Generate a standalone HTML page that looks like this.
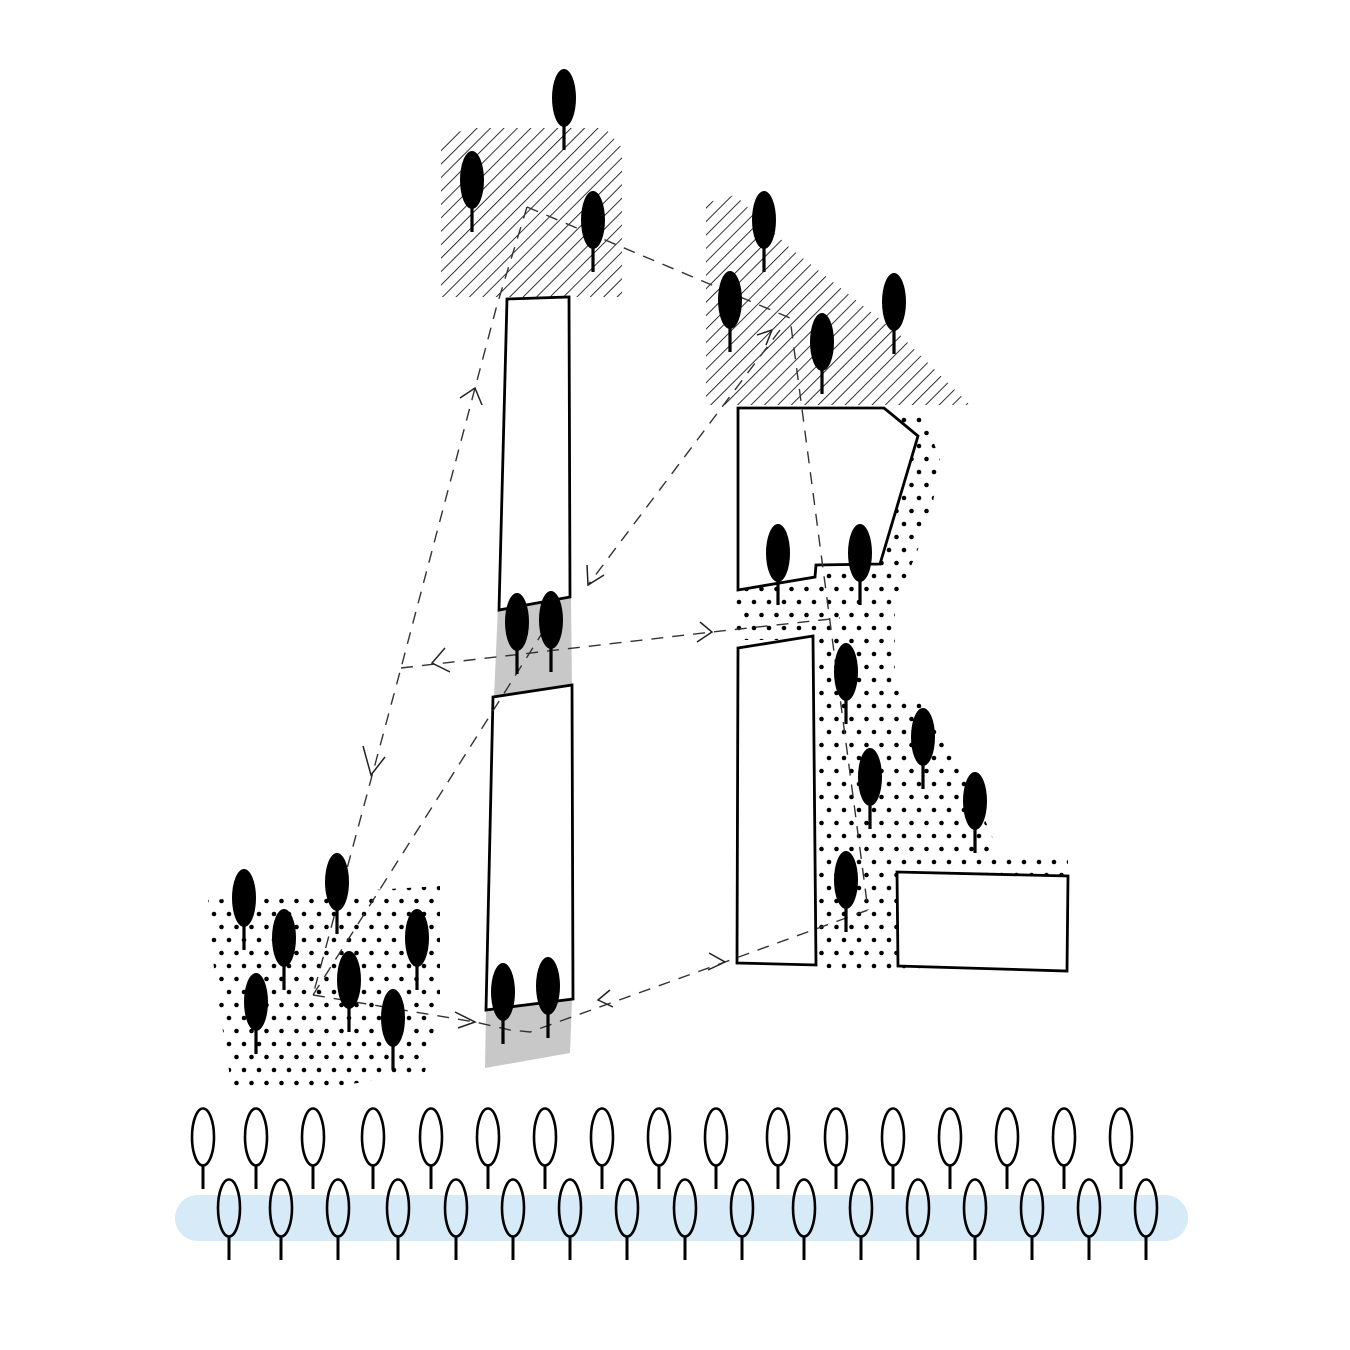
<!DOCTYPE html>
<html><head><meta charset="utf-8"><style>html,body{margin:0;padding:0;background:#fff}svg{display:block}</style></head>
<body>
<svg width="1350" height="1350" viewBox="0 0 1350 1350" xmlns="http://www.w3.org/2000/svg">
<defs>
<pattern id="hatch" width="9.5" height="9.5" patternUnits="userSpaceOnUse" patternTransform="rotate(45)">
<line x1="0" y1="0" x2="0" y2="9.5" stroke="#000" stroke-width="1.6"/>
</pattern>
<pattern id="dots" width="15" height="26" patternUnits="userSpaceOnUse">
<circle cx="4" cy="4" r="2.3" fill="#000"/>
<circle cx="11.5" cy="17" r="2.3" fill="#000"/>
</pattern>
<g id="bt"><ellipse cx="0" cy="0" rx="12" ry="29" fill="#000"/><line x1="0" y1="20" x2="0" y2="52" stroke="#000" stroke-width="3.2"/></g>
<g id="wt"><ellipse cx="0" cy="0" rx="11" ry="28.5" fill="none" stroke="#000" stroke-width="2.6"/><line x1="0" y1="28" x2="0" y2="52" stroke="#000" stroke-width="3"/></g>
</defs>
<rect width="1350" height="1350" fill="#fff"/>

<polygon points="441,138 470,128 605,128 622,148 622,297 441,297" fill="url(#hatch)"/>
<polygon points="706,203 735,195 790,248 900,335 970,405 706,405" fill="url(#hatch)"/>

<polygon points="880,410 925,418 940,460 930,520 895,605 895,690 925,700 960,770 985,820 1000,855 1068,858 1068,972 818,968 818,640 735,640 735,590 830,568" fill="url(#dots)"/>
<polygon points="208,900 440,886 440,1000 425,1072 345,1085 232,1090 215,980" fill="url(#dots)"/>

<polygon points="498,606 571,597 572,688 494,698" fill="#c8c8c8"/>
<polygon points="486,1010 572,1000 570,1053 485,1068" fill="#c8c8c8"/>

<g fill="#fff" stroke="#000" stroke-width="2.8" stroke-linejoin="miter">
<polygon points="507,299 569,297 570,597 499,610"/>
<polygon points="493,697 572,685 573,999 486,1010"/>
<polygon points="738,408 884,408 918,436 880,564 816,565 815,577 738,590"/>
<polygon points="738,648 813,636 816,965 737,963"/>
<polygon points="897,872 1068,876 1067,971 898,966"/>
</g>

<g fill="none" stroke="#333" stroke-width="1.4" stroke-dasharray="12,9">
<polyline points="527,207 497,305 401,668 313,995"/>
<polyline points="527,207 790,318 868,910"/>
<polyline points="780,330 588,585"/>
<polyline points="401,668 712,632 840,618"/>
<polyline points="313,995 560,605"/>
<polyline points="313,995 475,1022 510,1030 530,1032 725,962 868,910"/>
</g>
<g fill="none" stroke="#222" stroke-width="1.5">
<polyline points="460,398 475,388 482,405"/>
<polyline points="363,746 371,775 385,757"/>
<polyline points="445,648 432,663 450,672"/>
<polyline points="700,622 712,632 697,642"/>
<polyline points="587,565 588,585 604,575"/>
<polyline points="455,1012 475,1022 458,1028"/>
<polyline points="610,990 598,1000 613,1007"/>
<polyline points="709,953 725,962 708,970"/>
<polyline points="757,335 772,330 766,345"/>
</g>

<g>
<use href="#bt" x="564" y="98"/>
<use href="#bt" x="472" y="180"/>
<use href="#bt" x="593" y="220"/>
<use href="#bt" x="764" y="220"/>
<use href="#bt" x="730" y="300"/>
<use href="#bt" x="822" y="342"/>
<use href="#bt" x="894" y="302"/>
<use href="#bt" x="778" y="553"/>
<use href="#bt" x="860" y="553"/>
<use href="#bt" x="517" y="622"/>
<use href="#bt" x="551" y="620"/>
<use href="#bt" x="846" y="672"/>
<use href="#bt" x="923" y="737"/>
<use href="#bt" x="870" y="777"/>
<use href="#bt" x="975" y="801"/>
<use href="#bt" x="846" y="880"/>
<use href="#bt" x="244" y="898"/>
<use href="#bt" x="337" y="882"/>
<use href="#bt" x="284" y="938"/>
<use href="#bt" x="417" y="938"/>
<use href="#bt" x="349" y="980"/>
<use href="#bt" x="256" y="1002"/>
<use href="#bt" x="393" y="1018"/>
<use href="#bt" x="503" y="992"/>
<use href="#bt" x="548" y="986"/>
</g>

<rect x="175" y="1195" width="1013" height="46" rx="23" fill="#d6eaf8"/>

<g>
<use href="#wt" x="203" y="1137"/><use href="#wt" x="256" y="1137"/><use href="#wt" x="313" y="1137"/><use href="#wt" x="373" y="1137"/><use href="#wt" x="431" y="1137"/><use href="#wt" x="488" y="1137"/><use href="#wt" x="545" y="1137"/><use href="#wt" x="602" y="1137"/><use href="#wt" x="659" y="1137"/><use href="#wt" x="716" y="1137"/><use href="#wt" x="778" y="1137"/><use href="#wt" x="836" y="1137"/><use href="#wt" x="893" y="1137"/><use href="#wt" x="950" y="1137"/><use href="#wt" x="1007" y="1137"/><use href="#wt" x="1064" y="1137"/><use href="#wt" x="1121" y="1137"/>
<use href="#wt" x="229" y="1208"/><use href="#wt" x="281" y="1208"/><use href="#wt" x="338" y="1208"/><use href="#wt" x="398" y="1208"/><use href="#wt" x="456" y="1208"/><use href="#wt" x="513" y="1208"/><use href="#wt" x="570" y="1208"/><use href="#wt" x="627" y="1208"/><use href="#wt" x="685" y="1208"/><use href="#wt" x="742" y="1208"/><use href="#wt" x="804" y="1208"/><use href="#wt" x="861" y="1208"/><use href="#wt" x="918" y="1208"/><use href="#wt" x="975" y="1208"/><use href="#wt" x="1032" y="1208"/><use href="#wt" x="1089" y="1208"/><use href="#wt" x="1146" y="1208"/>
</g>
</svg>
</body></html>
